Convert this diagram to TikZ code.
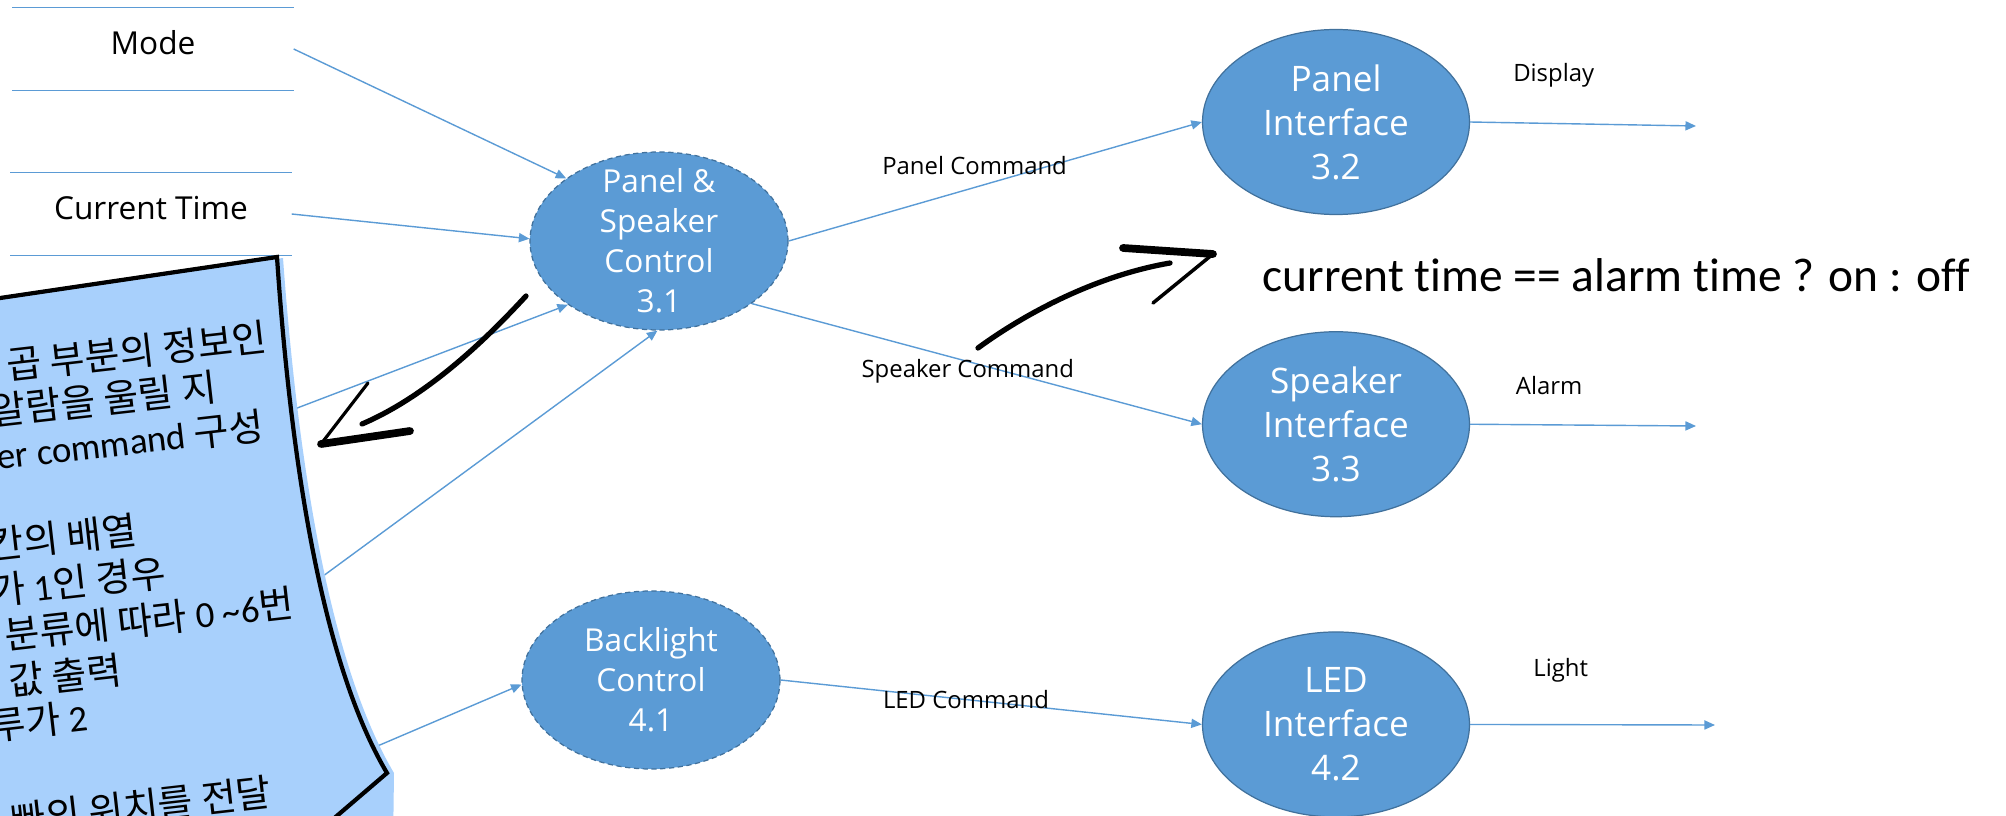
\documentclass[tikz,border=0pt]{standalone}
\usepackage{fontspec}
\setmainfont{Open Sans}
\newfontfamily\krfont{Noto Sans CJK KR}
\newfontfamily\calfont[Ligatures=NoCommon]{Carlito}
\newcommand\memolat[1]{{\fontsize{10.5pt}{13pt}\calfont #1}}
\usetikzlibrary{shapes.geometric, arrows.meta, positioning}
\definecolor{dfdblue}{RGB}{91,155,213}
\definecolor{dfdedge}{RGB}{65,113,156}
\definecolor{noteblue}{RGB}{168,208,252}
\tikzset{
flow/.style={draw=dfdblue, line width=0.4pt, -{Triangle[length=3pt, width=2.6pt]}}, % blue data flow with small head
process/.style={ellipse, fill=dfdblue, draw=dfdedge, line width=0.35pt, text=white, align=center, inner xsep=0pt, inner ysep=-5pt}, % filled bubble
control/.style={process, dashed, dash pattern=on 1.5pt off 1pt, minimum width=25.8mm, minimum height=17.8mm, font=\fontsize{9pt}{11.4pt}\selectfont}, % dashed control bubble
interface/.style={process, minimum width=26.7mm, minimum height=18.5mm, inner ysep=0pt, font=\fontsize{10pt}{12.5pt}\selectfont}, % interface bubble
store/.style={minimum width=28mm, minimum height=8.2mm, inner sep=0pt, text height=9pt, text depth=6pt, font=\fontsize{9pt}{11pt}\selectfont}, % data store, lines drawn afterwards
storeline/.style={draw=dfdblue, line width=0.4pt},
flowlabel/.style={font=\fontsize{6.8pt}{8pt}\selectfont, text=black}, % text on the flows
note/.style={font=\fontsize{10.8pt}{13pt}\krfont, anchor=base west, rotate=6.5, inner sep=0pt}, % tilted memo text
ink/.style={draw=black, line width=1.5pt, line cap=round, line join=round}, % hand drawn strokes
cond/.style={font=\fontsize{13.5pt}{16pt}\calfont, inner sep=0pt},
}

\begin{document}
\begin{tikzpicture}[x=0.1mm, y=-0.1mm]
    \useasboundingbox (0,0) rectangle (2006,816);
    \clip (0,0) rectangle (2006,816);

    % data stores
    \node[store] (mode) at (153,49) {Mode};
    \node[store] (ctime) at (151,214) {Current Time};
    \draw[storeline] (mode.north west) -- (mode.north east) (mode.south west) -- (mode.south east);
    \draw[storeline] (ctime.north west) -- (ctime.north east) (ctime.south west) -- (ctime.south east);

    % processes
    \node[control] (psc) at (659,241) {Panel \&\\Speaker\\Control\\3.1};
    \node[control] (blc) at (651,680) {Backlight\\Control\\4.1};
    \node[interface] (pif) at (1336,122) {Panel\\Interface\\3.2};
    \node[interface, below=11.6mm of pif] (sif) {Speaker\\Interface\\3.3};
    \node[interface, below=11.4mm of sif] (lif) {LED\\Interface\\4.2};

    \coordinate (hidA) at (250,426);
    \coordinate (hidB) at (270,615);
    \coordinate (hidC) at (340,762);
    \coordinate (dispout) at (1696,126);
    \coordinate (alarmout) at (1696,426);
    \coordinate (lightout) at (1715,725);

    \draw[flow] (mode.east) -- (psc.146);
    \draw[flow] (ctime.east) -- (psc.179);
    \draw[flow] (hidA) -- (psc.215);
    \draw[flow] (hidB) -- (psc.269);
    \draw[flow] (hidC) -- (blc.182);

    \draw[flow] (psc.0) -- node[flowlabel, pos=.45, above=0pt] (pcmd) {Panel Command} (pif.180);
    \draw[flow] (psc.326) -- node[flowlabel, pos=.48, yshift=-2.7pt] (scmd) {Speaker Command} (sif.180);
    \draw[flow] (blc.0) -- node[flowlabel, pos=.44] (lcmd) {LED Command} (lif.180);
    \draw[flow] (pif.0) -- node[flowlabel, pos=.37, above=6.8pt] (disp) {Display} (dispout);
    \draw[flow] (sif.0) -- node[flowlabel, pos=.35, above=5pt] (alarm) {Alarm} (alarmout);
    \draw[flow] (lif.0) -- node[flowlabel, pos=.37, above=8.6pt] (light) {Light} (lightout);

    % memo sheet
    \fill[noteblue] (-20,300) -- (283,258) .. controls (297,450) and (327,660) .. (394,773) -- (393,850) -- (-20,850) -- cycle;
    \draw[line width=1.2pt, fill=noteblue] (-20,301) -- (277,257) .. controls (290,450) and (320,660) .. (387,773) -- (290,856) -- (-20,856) -- cycle;
    \foreach \i/\x/\y/\txt in {1/8/380/{곱 부분의 정보인}, 2/-8/426/{알람을 울릴 지},
        3/-2/470/{\memolat{er command} 구성}, 4/-10/560/{칸의 배열},
        5/-8/606/{가 \memolat{1}인 경우}, 6/6/650/{분류에 따라 \memolat{0 \textasciitilde6}번},
        7/10/696/{값 출력}, 8/-8/741/{루가 \memolat{2}}, 9/12/835/{빠의 위치를 전달}}
        \node[note] (note\i) at (\x,\y) {\txt};

    % hand drawn arrows
    \coordinate (inkA) at (526,296);
    \coordinate (tipA) at (321,444);
    \draw[ink] (inkA) .. controls (490,335) and (430,395) .. ([shift={(41,-20)}]tipA);
    \draw[ink, line width=0.9pt] ([shift={(47,-61)}]tipA) -- (tipA);
    \draw[ink, line width=2.2pt] (tipA) -- ([shift={(89,-13)}]tipA);

    \coordinate (inkB) at (978,348);
    \coordinate (tipB) at (1213,254);
    \draw[ink] (inkB) .. controls (1030,310) and (1100,275) .. ([shift={(-43,9)}]tipB);
    \draw[ink, line width=2.2pt] ([shift={(-90,-6)}]tipB) -- (tipB);
    \draw[ink, line width=1pt] (tipB) -- ([shift={(-60,49)}]tipB);

    \node[cond, anchor=west] (cond) at (1262,275) {current time == alarm time ? on : off};
\end{tikzpicture}
\end{document}
